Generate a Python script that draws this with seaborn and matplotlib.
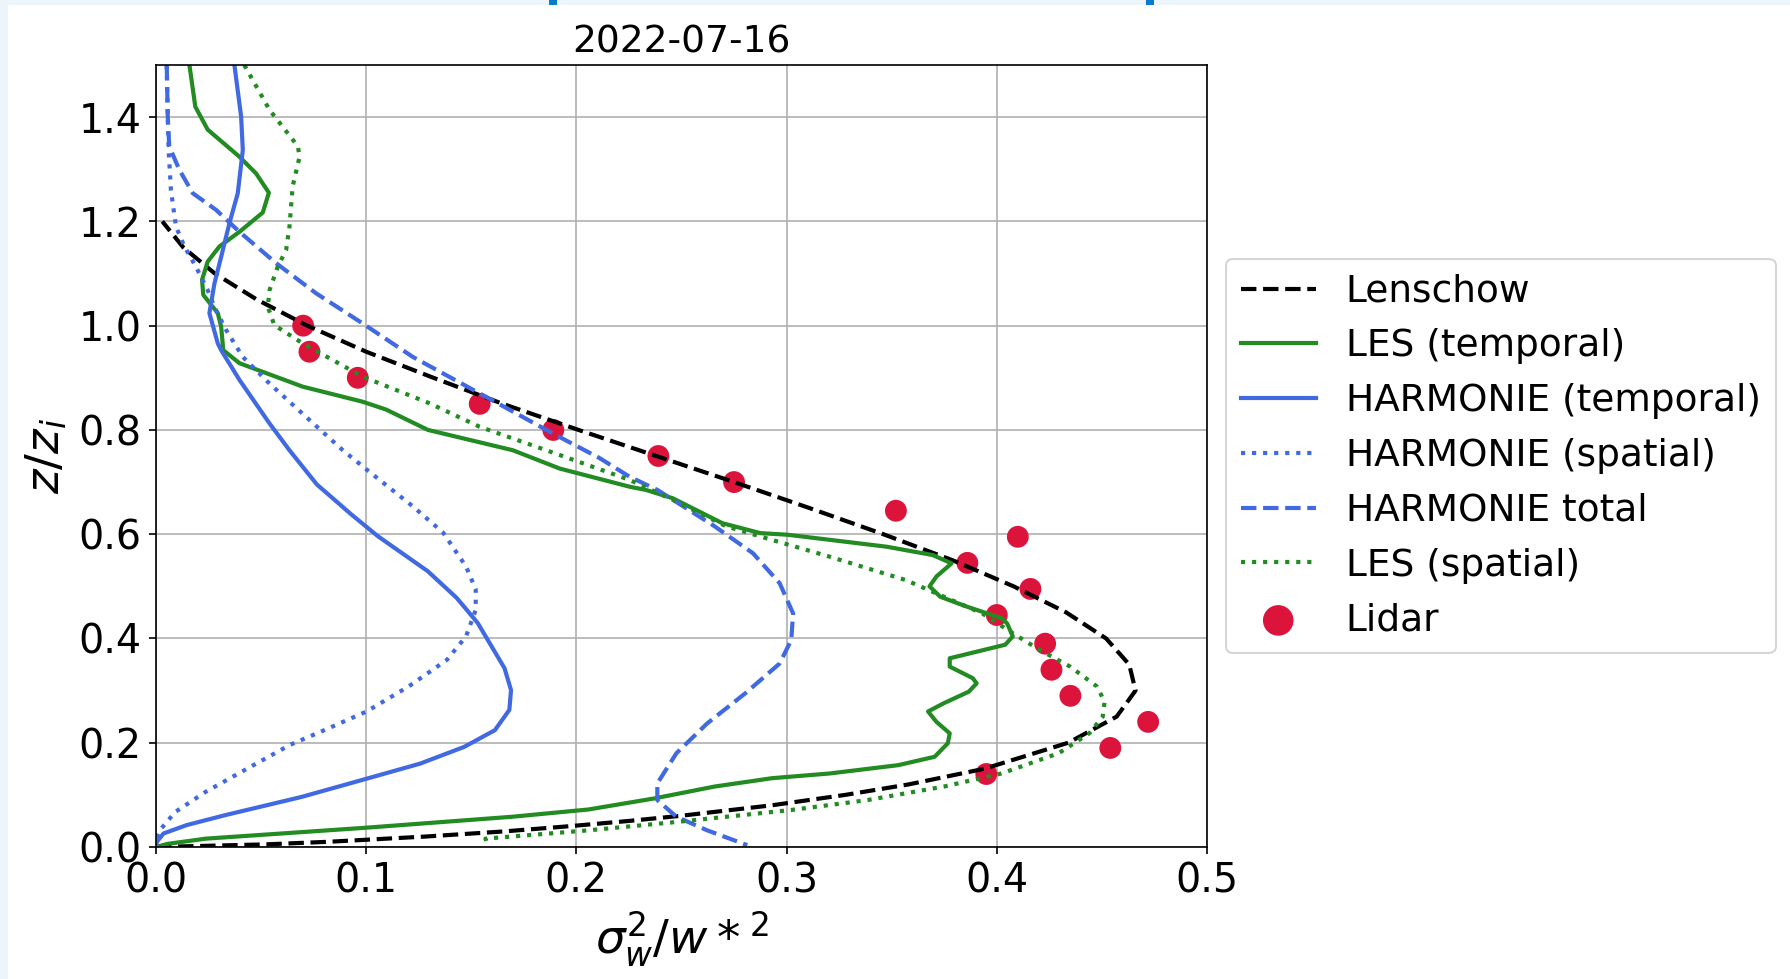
import matplotlib
matplotlib.use("Agg")
import matplotlib.pyplot as plt
from matplotlib.patches import Rectangle
import seaborn as sns

# ---------------- data ----------------
lenschow_z = [0, 0.005, 0.01, 0.02, 0.03, 0.04, 0.05, 0.06, 0.08, 0.10, 0.12, 0.15, 0.2,
              0.25, 0.3, 0.35, 0.4, 0.45, 0.5, 0.55, 0.6, 0.65, 0.7, 0.75, 0.8, 0.85,
              0.9, 0.95, 1.0, 1.05, 1.1, 1.15, 1.2]
lenschow_x = [0, 0.052, 0.082, 0.128, 0.166, 0.197, 0.225, 0.250, 0.293, 0.328, 0.358, 0.394,
              0.434, 0.457, 0.466, 0.463, 0.452, 0.433, 0.408, 0.379, 0.346, 0.311, 0.275,
              0.238, 0.201, 0.165, 0.132, 0.100, 0.072, 0.048, 0.028, 0.013, 0.003]

les_temp_x = [0.0159, 0.0187, 0.0246, 0.0397, 0.0476, 0.0537, 0.0508, 0.0397, 0.0302, 0.0246,
              0.0219, 0.0225, 0.0294, 0.031, 0.032, 0.0397, 0.0698, 0.0984, 0.1095, 0.1294,
              0.1698, 0.192, 0.2254, 0.233, 0.2458, 0.2695, 0.2876, 0.3004, 0.3476, 0.3695,
              0.3785, 0.3713, 0.368, 0.3731, 0.3858, 0.4022, 0.4049, 0.4076, 0.404, 0.3776,
              0.3776, 0.3885, 0.3904, 0.3867, 0.3749, 0.3673, 0.3713, 0.3776, 0.3767, 0.3704,
              0.3531, 0.3204, 0.2931, 0.2658, 0.2368, 0.2058, 0.1694, 0.1, 0.0237, 0.0055, 0.0]
les_temp_z = [1.50, 1.42, 1.376, 1.324, 1.292, 1.255, 1.217, 1.18, 1.152, 1.123,
              1.088, 1.059, 1.024, 0.998, 0.953, 0.928, 0.883, 0.854, 0.839, 0.80,
              0.761, 0.726, 0.691, 0.685, 0.669, 0.621, 0.602, 0.599, 0.576, 0.560,
              0.544, 0.519, 0.500, 0.480, 0.461, 0.439, 0.429, 0.404, 0.388, 0.362,
              0.346, 0.324, 0.314, 0.298, 0.276, 0.260, 0.240, 0.218, 0.199, 0.173,
              0.157, 0.141, 0.132, 0.116, 0.093, 0.072, 0.058, 0.037, 0.016, 0.006, 0.0]

harm_temp_x = [0.0373, 0.0405, 0.0413, 0.0389, 0.0349, 0.031, 0.0278, 0.0254, 0.0294, 0.031,
               0.0397, 0.054, 0.0635, 0.0765, 0.0929, 0.1056, 0.1293, 0.143, 0.153, 0.1658,
               0.1689, 0.1681, 0.1612, 0.1466, 0.1257, 0.1002, 0.0692, 0.0328, 0.0146, 0.0036,
               0.0004, 0.0]
harm_temp_z = [1.5, 1.401, 1.337, 1.254, 1.196, 1.132, 1.081, 1.024, 0.966, 0.953,
               0.896, 0.8125, 0.761, 0.6955, 0.638, 0.596, 0.529, 0.478, 0.430, 0.343,
               0.301, 0.263, 0.224, 0.192, 0.160, 0.131, 0.096, 0.061, 0.042, 0.026,
               0.010, 0.0]

harm_spat_x = [0.0051, 0.0056, 0.006, 0.0071, 0.0095, 0.0135, 0.019, 0.0246, 0.0278, 0.0333,
               0.0413, 0.054, 0.0714, 0.0889, 0.1002, 0.122, 0.1366, 0.1475, 0.1521, 0.1521,
               0.1475, 0.1384, 0.1202, 0.1002, 0.0783, 0.0638, 0.0419, 0.0237, 0.0091, 0.0018,
               0.0004, 0.0]
harm_spat_z = [1.5, 1.4, 1.337, 1.26, 1.19, 1.152, 1.113, 1.068, 1.036, 0.992,
               0.94, 0.889, 0.825, 0.761, 0.724, 0.654, 0.603, 0.538, 0.494, 0.455,
               0.404, 0.359, 0.308, 0.260, 0.221, 0.196, 0.147, 0.106, 0.067, 0.032,
               0.019, 0.005]

harm_total_x = [0.0051, 0.0056, 0.0063, 0.0111, 0.0175, 0.0286, 0.0397, 0.0571, 0.0762, 0.0984,
                0.1222, 0.154, 0.1889, 0.211, 0.2254, 0.2385, 0.2658, 0.284, 0.2967, 0.3031,
                0.3022, 0.2967, 0.2804, 0.2622, 0.2476, 0.2385, 0.2385, 0.2476, 0.2622, 0.2813]
harm_total_z = [1.5, 1.4, 1.344, 1.299, 1.254, 1.222, 1.18, 1.12, 1.062, 1.004,
                0.94, 0.87, 0.793, 0.746, 0.71, 0.685, 0.615, 0.5635, 0.506, 0.448,
                0.397, 0.352, 0.295, 0.237, 0.180, 0.122, 0.09, 0.058, 0.032, 0.0035]

les_spat_x = [0.042, 0.054, 0.0675, 0.0683, 0.065, 0.0635, 0.0619, 0.0579, 0.054, 0.0532,
              0.0563, 0.0698, 0.0984, 0.1302, 0.154, 0.1857, 0.2254, 0.2458, 0.2713, 0.2931,
              0.3204, 0.3567, 0.3749, 0.3931, 0.4076, 0.4204, 0.4349, 0.4476, 0.4513, 0.4504,
              0.444, 0.4295, 0.4022, 0.3749, 0.3385, 0.3022, 0.2476, 0.2058, 0.1567, 0.158]
les_spat_z = [1.50, 1.414, 1.344, 1.324, 1.267, 1.19, 1.145, 1.113, 1.068, 1.036,
              1.001, 0.966, 0.902, 0.851, 0.806, 0.761, 0.704, 0.666, 0.615, 0.589,
              0.557, 0.512, 0.480, 0.448, 0.41, 0.378, 0.346, 0.308, 0.279, 0.25,
              0.218, 0.180, 0.141, 0.116, 0.09, 0.071, 0.048, 0.032, 0.016, 0.003]

lidar_x = [0.070, 0.073, 0.096, 0.154, 0.189, 0.239, 0.275, 0.352, 0.410, 0.386, 0.416,
           0.400, 0.423, 0.426, 0.435, 0.472, 0.454, 0.395]
lidar_z = [1.0, 0.95, 0.9, 0.85, 0.8, 0.75, 0.7, 0.645, 0.595, 0.545, 0.495,
           0.445, 0.39, 0.34, 0.29, 0.24, 0.19, 0.14]

title = "2022-07-16"
x_ticks = [0.0, 0.1, 0.2, 0.3, 0.4, 0.5]
y_ticks = [0.0, 0.2, 0.4, 0.6, 0.8, 1.0, 1.2, 1.4]

# ---------------- figure ----------------
W, H, DPI = 1790, 979, 150
fig = plt.figure(figsize=(W / DPI, H / DPI), dpi=DPI, facecolor="white")

# screenshot frame (light band + two blue marks)
band = "#EDF5FC"
fig.add_artist(Rectangle((0, 1 - 5 / H), 1, 5 / H, transform=fig.transFigure,
                         facecolor=band, edgecolor="none", zorder=-5))
fig.add_artist(Rectangle((0, 0), 8 / W, 1, transform=fig.transFigure,
                         facecolor=band, edgecolor="none", zorder=-5))
for xm in (549, 1146):
    fig.add_artist(Rectangle((xm / W, 1 - 5 / H), 8 / W, 5 / H, transform=fig.transFigure,
                             facecolor="#0A7BCC", edgecolor="none", zorder=-4))

ax = fig.add_axes([156 / W, 1 - 847 / H, (1207 - 156) / W, (847 - 65) / H])

common = dict(sort=False, estimator=None, ax=ax, linewidth=2.0)
sns.lineplot(x=lenschow_x, y=lenschow_z, color="black", linestyle="--", label="Lenschow", **common)
sns.lineplot(x=les_temp_x, y=les_temp_z, color="forestgreen", linestyle="-", label="LES (temporal)", **common)
sns.lineplot(x=harm_temp_x, y=harm_temp_z, color="royalblue", linestyle="-", label="HARMONIE (temporal)", **common)
sns.lineplot(x=harm_spat_x, y=harm_spat_z, color="royalblue", linestyle=":", label="HARMONIE (spatial)", **common)
sns.lineplot(x=harm_total_x, y=harm_total_z, color="royalblue", linestyle="--", label="HARMONIE total", **common)
sns.lineplot(x=les_spat_x, y=les_spat_z, color="forestgreen", linestyle=":", label="LES (spatial)", **common)
sns.scatterplot(x=lidar_x, y=lidar_z, color="crimson", s=110, edgecolor="none", label="Lidar", ax=ax)

ax.set_xlim(0, 0.5)
ax.set_ylim(0, 1.5)
ax.set_xticks(x_ticks)
ax.set_yticks(y_ticks)
ax.set_xticklabels([f"{t:.1f}" for t in x_ticks])
ax.set_yticklabels([f"{t:.1f}" for t in y_ticks])
ax.tick_params(labelsize=19)
ax.grid(True, color="#b0b0b0", linewidth=0.8)
ax.set_axisbelow(True)
ax.set_title(title, fontsize=18)
ax.set_xlabel(r"$\sigma_w^2/w*^2$", fontsize=22.5)
ax.set_ylabel(r"$z/z_i$", fontsize=22.5)

ax.legend(loc="center left", bbox_to_anchor=(1.0, 0.5), fontsize=18, markerscale=1.4)

fig.savefig("out.png", dpi=DPI, facecolor="white")
